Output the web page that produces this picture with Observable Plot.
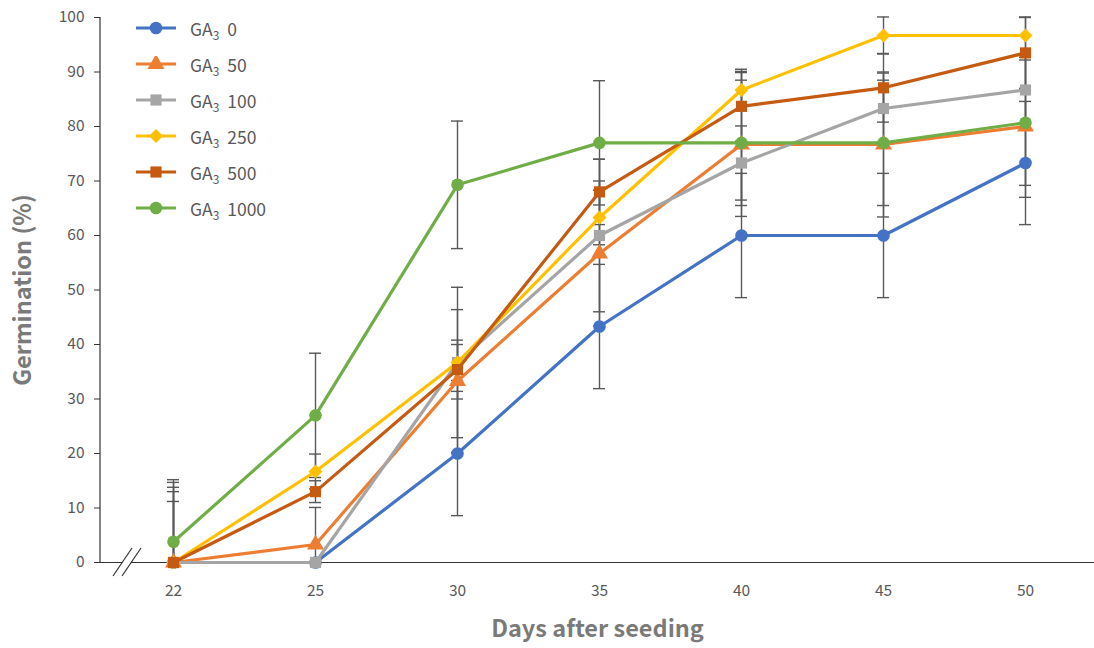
<!DOCTYPE html>
<html><head><meta charset="utf-8">
<script src="https://cdn.jsdelivr.net/npm/d3@7"></script>
<script src="https://cdn.jsdelivr.net/npm/@observablehq/plot@0.6"></script>
<style>
body{margin:0;background:#fff;}
#wrap{position:relative;width:1094px;height:648px;font-family:"Noto Sans CJK KR","Noto Sans",sans-serif;}
#legend{position:absolute;left:135px;top:10px;}
.item{display:flex;align-items:center;height:36px;font-size:17.5px;color:#595959;white-space:nowrap;}
.item svg{margin-right:13px;}
.item sub{font-size:12px;vertical-align:-4px;line-height:0;margin-right:4px;}
</style></head><body>
<div id="wrap"><div id="legend"></div></div>
<script>
// ---- data ----
const days = [22, 25, 30, 35, 40, 45, 50];
const doses = ["0", "50", "100", "250", "500", "1000"];
const ga0    = [0, 0, 20, 43.3, 60, 60, 73.3];
const ga50   = [0, 3.3, 33.3, 56.7, 76.7, 76.7, 80];
const ga100  = [0, 0, 36.7, 60, 73.3, 83.3, 86.7];
const ga250  = [0, 16.7, 36.7, 63.3, 86.7, 96.7, 96.7];
const ga500  = [0, 13, 35.4, 68, 83.7, 87.1, 93.5];
const ga1000 = [3.8, 27, 69.3, 77, 77, 77, 80.7];
const err0    = [0, 0, 11.4, 11.4, 11.4, 11.4, 11.3];
const err50   = [11.2, 6.8, 13.1, 13.3, 13.2, 13.3, 13.0];
const err100  = [13.0, 0, 13.8, 14.0, 6.8, 6.5, 6.0];
const err250  = [14.7, 3.2, 3.3, 5.0, 3.8, 3.4, 3.4];
const err500  = [13.8, 2.0, 5.4, 6.0, 6.4, 6.3, 6.5];
const err1000 = [11.4, 11.4, 11.7, 11.4, 11.5, 11.5, 11.5];
const yTicks = [0, 10, 20, 30, 40, 50, 60, 70, 80, 90, 100];

const colors = ["#4472C4", "#ED7D31", "#A5A5A5", "#FFC000", "#C55A11", "#70AD47"];
const symbols = ["circle", "triangle", "square", "diamond2", "square", "circle"];

const values = [ga0, ga50, ga100, ga250, ga500, ga1000];
const errors = [err0, err50, err100, err250, err500, err1000];
const rows = [];
doses.forEach((d, i) => days.forEach((day, j) =>
  rows.push({dose: d, day, v: values[i][j], e: errors[i][j]})));

const errStyle = {stroke: "#595959", strokeWidth: 1.4};
const marks = [
  Plot.axisY(yTicks, {tickSize: 6, tickPadding: 10, fontSize: 15.5, label: "Germination (%)",
    labelAnchor: "center", labelOffset: 86, labelArrow: "none"}),
  Plot.axisX(days, {tickSize: 0, tickPadding: 22, fontSize: 15.5, label: "Days after seeding",
    labelAnchor: "center", labelOffset: 74, labelArrow: "none"}),
  Plot.ruleY([0], {stroke: "#333", strokeWidth: 1.2}),
  Plot.ruleX(rows.filter(r => r.e > 0), {x: "day", y1: r => Math.max(0, r.v - r.e), y2: r => r.v + r.e, ...errStyle}),
  Plot.ruleY(rows.filter(r => r.e > 0), {x1: "day", x2: "day", y: r => r.v + r.e, insetLeft: -6, insetRight: -6, ...errStyle}),
  Plot.ruleY(rows.filter(r => r.e > 0 && r.v - r.e > 0), {x1: "day", x2: "day", y: r => r.v - r.e, insetLeft: -6, insetRight: -6, ...errStyle})
];
doses.forEach(d => {
  const sub = rows.filter(r => r.dose === d);
  marks.push(Plot.line(sub, {x: "day", y: "v", stroke: "dose", strokeWidth: 3.2}));
  marks.push(Plot.dot(sub, {x: "day", y: "v", fill: "dose", symbol: "dose", r: 6.3, stroke: "none"}));
});

const chart = Plot.plot({
  width: 1094, height: 648,
  marginLeft: 100, marginRight: 0, marginTop: 17, marginBottom: 86,
  x: {type: "point", domain: days, range: [171, 1026], padding: 0},
  y: {domain: [0, 100]},
  color: {domain: doses, range: colors},
  symbol: {domain: doses, range: symbols},
  style: {fontFamily: '"Noto Sans CJK KR","Noto Sans",sans-serif', color: "#595959", background: "#fff", overflow: "visible"},
  marks
});
document.getElementById("wrap").prepend(chart);

// axis styling
const svg = d3.select(chart);
svg.selectAll('[aria-label="y-axis tick"] path').attr("stroke", "#333");
svg.selectAll('[aria-label="y-axis label"] text, [aria-label="x-axis label"] text')
  .attr("font-weight", "bold").attr("font-size", 23.5).attr("fill", "#7a7a7a");
const ys = chart.scale("y");
const x0 = 100;
svg.append("line").attr("x1", x0).attr("x2", x0).attr("y1", ys.apply(0)).attr("y2", ys.apply(100))
  .attr("stroke", "#333").attr("stroke-width", 1.2);
// axis break mark
const by = ys.apply(0);
const brk = svg.append("g");
brk.append("polygon").attr("points", `${x0+13},${by+14} ${x0+22},${by+14} ${x0+41},${by-14} ${x0+32},${by-14}`).attr("fill", "#fff");
[13, 22].forEach(o => brk.append("line").attr("x1", x0 + o).attr("y1", by + 14).attr("x2", x0 + o + 19).attr("y2", by - 14)
  .attr("stroke", "#333").attr("stroke-width", 1.2));

// legend
const leg = d3.select("#legend");
doses.forEach((d, i) => {
  const it = leg.append("div").attr("class", "item");
  const s = it.append("svg").attr("width", 42).attr("height", 16);
  s.append("line").attr("x1", 1).attr("x2", 41).attr("y1", 8).attr("y2", 8).attr("stroke", colors[i]).attr("stroke-width", 3.2);
  const sym = {circle: d3.symbolCircle, triangle: d3.symbolTriangle, square: d3.symbolSquare, diamond2: d3.symbolDiamond2}[symbols[i]];
  s.append("path").attr("transform", "translate(21,8)").attr("d", d3.symbol(sym, Math.PI * 6.3 * 6.3)()).attr("fill", colors[i]);
  it.append("span").html(`GA<sub>3</sub> ${d}`);
});
</script>
</body></html>
